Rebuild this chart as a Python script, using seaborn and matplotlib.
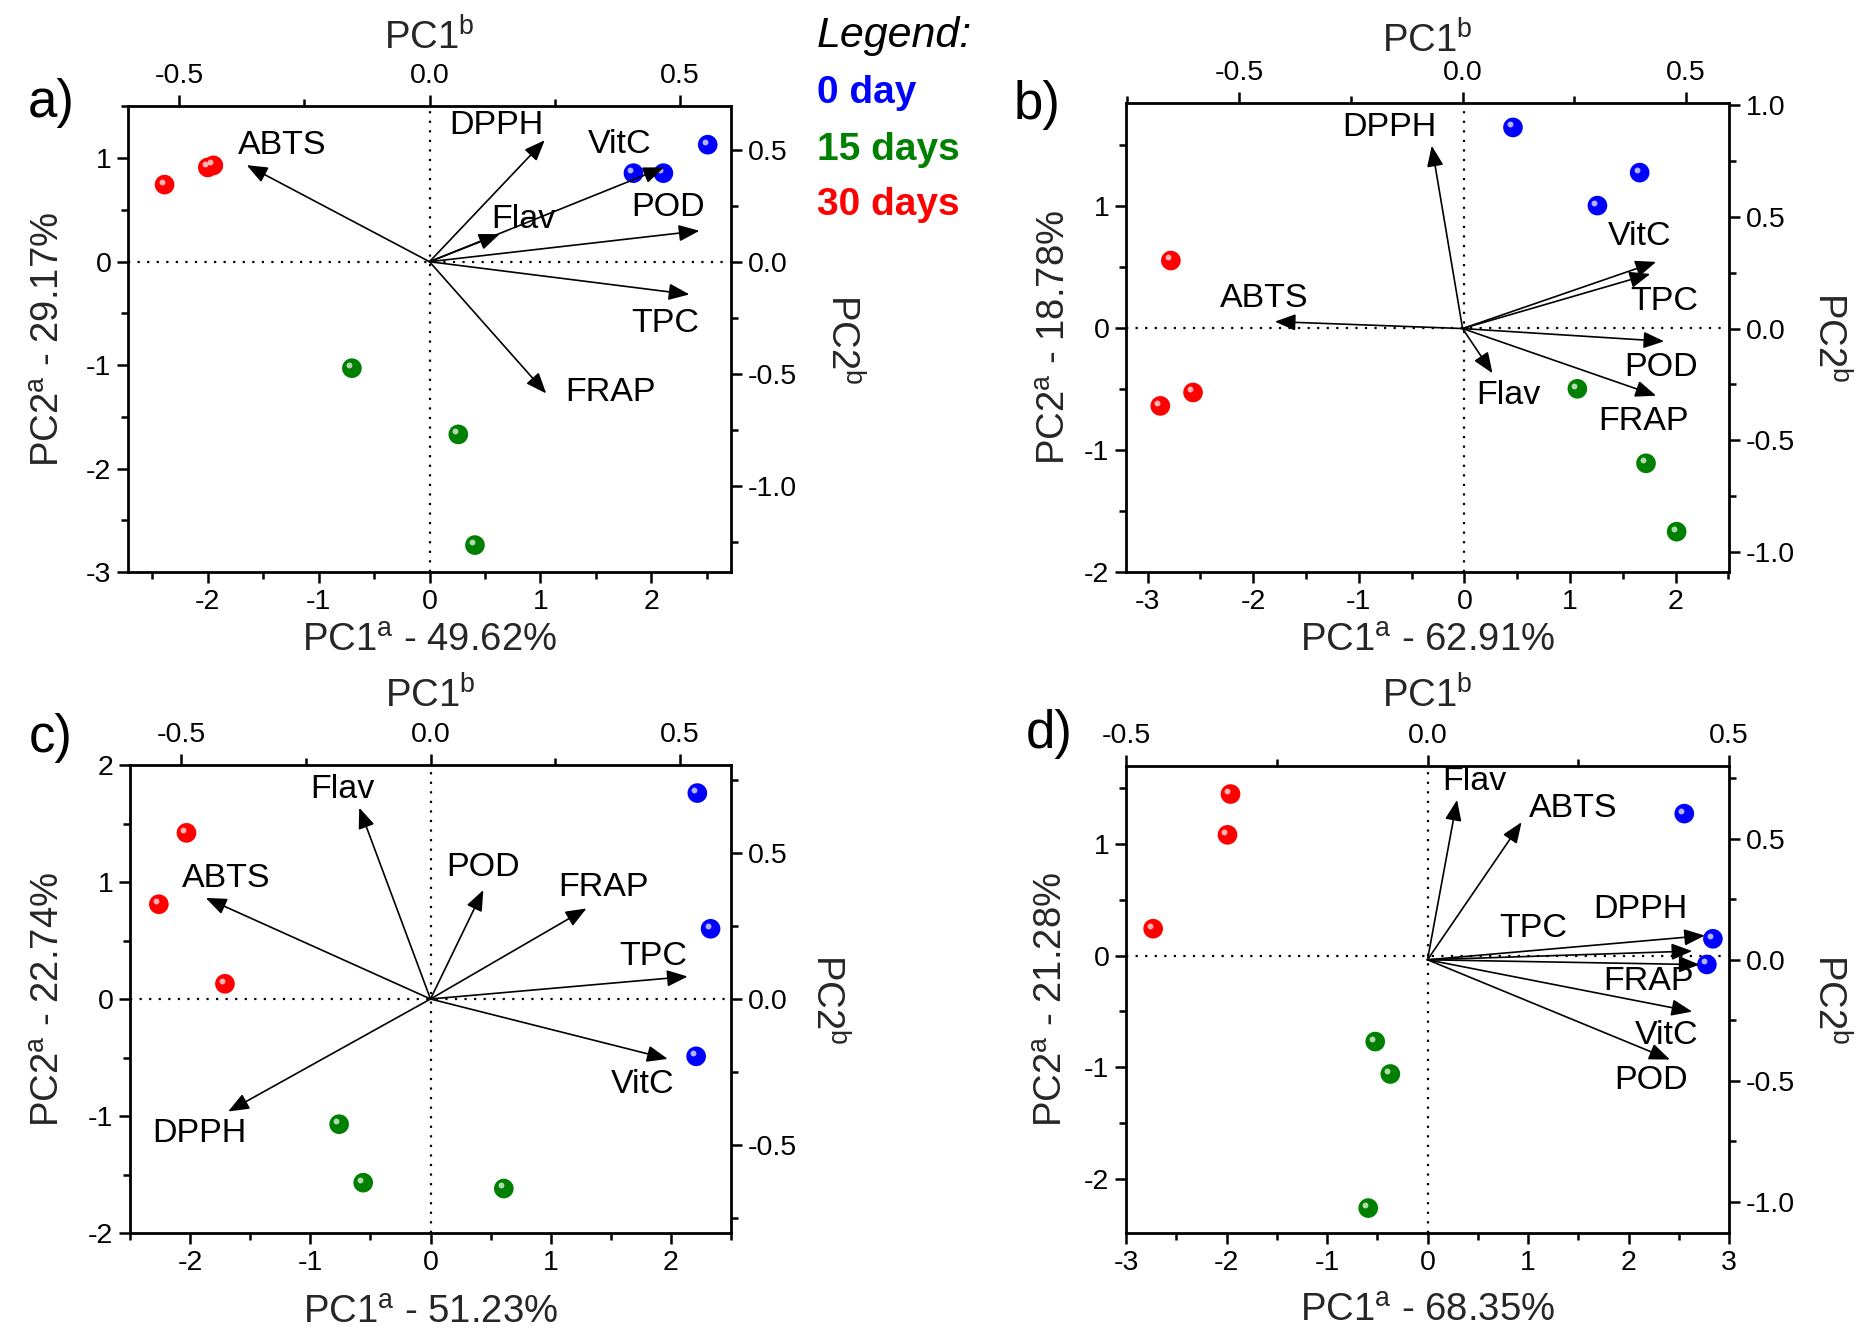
import numpy as np
import pandas as pd
import matplotlib
matplotlib.use("Agg")
import matplotlib.pyplot as plt
import seaborn as sns
from matplotlib.ticker import MultipleLocator, FuncFormatter
from matplotlib.transforms import offset_copy

# ---------------- data ----------------
groups = ["0 day", "15 days", "30 days"]
group_colors = ["#0000FF", "#008000", "#FF0000"]
sample_groups = ["0 day"] * 3 + ["15 days"] * 3 + ["30 days"] * 3
variables = ["TPC", "Flav", "VitC", "POD", "DPPH", "ABTS", "FRAP"]

# panel a) scores (PC1a / PC2a) and loadings (PC1b / PC2b)
a_pc1 = [1.84, 2.11, 2.51, -0.70, 0.26, 0.41, -2.39, -2.00, -1.95]
a_pc2 = [0.855, 0.855, 1.13, -1.03, -1.67, -2.74, 0.744, 0.91, 0.93]
a_load1 = [0.519, 0.14, 0.468, 0.539, 0.23, -0.365, 0.233]
a_load2 = [-0.146, 0.123, 0.421, 0.138, 0.542, 0.431, -0.588]
a_explained = ["49.62%", "29.17%"]

# panel b)
b_pc1 = [0.46, 1.66, 1.26, 1.07, 1.72, 2.01, -2.78, -2.57, -2.88]
b_pc2 = [1.64, 1.27, 1.00, -0.50, -1.11, -1.67, 0.55, -0.53, -0.64]
b_load1 = [0.42, 0.067, 0.433, 0.451, -0.069, -0.42, 0.433]
b_load2 = [0.244, -0.20, 0.298, -0.057, 0.817, 0.031, -0.30]
b_explained = ["62.91%", "18.78%"]

# panel c)
c_pc1 = [2.22, 2.33, 2.21, -0.76, -0.56, 0.61, -2.03, -2.26, -1.71]
c_pc2 = [1.76, 0.60, -0.49, -1.07, -1.57, -1.62, 1.42, 0.81, 0.13]
c_load1 = [0.516, -0.143, 0.476, 0.106, -0.406, -0.451, 0.313]
c_load2 = [0.077, 0.655, -0.205, 0.373, -0.385, 0.346, 0.31]
c_explained = ["51.23%", "22.74%"]

# panel d)
d_pc1 = [2.555, 2.84, 2.78, -0.52, -0.37, -0.59, -1.96, -1.99, -2.73]
d_pc2 = [1.27, 0.15, -0.08, -0.77, -1.06, -2.26, 1.445, 1.08, 0.24]
d_load1 = [0.439, 0.049, 0.439, 0.402, 0.46, 0.156, 0.451]
d_load2 = [0.036, 0.66, -0.214, -0.412, 0.10, 0.568, -0.02]
d_explained = ["68.35%", "21.28%"]

# label anchor positions for the loading names (loading-axis coordinates)
a_lab1 = [0.471, 0.188, 0.379, 0.476, 0.134, -0.295, 0.361]
a_lab2 = [-0.275, 0.187, 0.523, 0.24, 0.61, 0.519, -0.583]
b_lab1 = [0.451, 0.103, 0.397, 0.443, -0.164, -0.444, 0.404]
b_lab2 = [0.12, -0.30, 0.41, -0.172, 0.90, 0.135, -0.414]
c_lab1 = [0.446, -0.177, 0.426, 0.106, -0.463, -0.409, 0.348]
c_lab2 = [0.146, 0.716, -0.292, 0.45, -0.46, 0.414, 0.38]
d_lab1 = [0.175, 0.077, 0.397, 0.370, 0.353, 0.242, 0.367]
d_lab2 = [0.130, 0.735, -0.312, -0.50, 0.206, 0.624, -0.091]

# ---------------- style ----------------
sns.set_theme(style="ticks")
plt.rcParams["font.family"] = ["Liberation Sans", "DejaVu Sans"]
plt.rcParams["axes.unicode_minus"] = False
plt.rcParams["mathtext.fontset"] = "custom"
plt.rcParams["mathtext.rm"] = "Liberation Sans"

W, H = 1866, 1339
fig = plt.figure(figsize=(W / 100, H / 100), dpi=100, facecolor="white")


def px_rect(x0, y0, x1, y1):
    return [x0 / W, 1 - y1 / H, (x1 - x0) / W, (y1 - y0) / H]


TICK_FS = 20.5
LABEL_FS = 27.5
NAME_FS = 24.5

panels = [
    dict(letter="a)", lpos=(51, 103), rect=px_rect(128, 106, 731, 572),
         pc1=a_pc1, pc2=a_pc2, l1=a_load1, l2=a_load2, t1=a_lab1, t2=a_lab2, ex=a_explained,
         xlim=(-2.72, 2.72), ylim=(-3.0, 1.504), bxlim=(-0.602, 0.602), bylim=(-1.385, 0.695),
         lab=(-0.131, -0.148, 1.146, 1.184)),
    dict(letter="b)", lpos=(1037, 105), rect=px_rect(1126, 103, 1729, 572),
         pc1=b_pc1, pc2=b_pc2, l1=b_load1, l2=b_load2, t1=b_lab1, t2=b_lab2, ex=b_explained,
         xlim=(-3.205, 2.506), ylim=(-2.0, 1.84), bxlim=(-0.753, 0.596), bylim=(-1.088, 1.008),
         lab=(-0.118, -0.147, 1.132, 1.166)),
    dict(letter="c)", lpos=(51, 738), rect=px_rect(130, 765, 731, 1233),
         pc1=c_pc1, pc2=c_pc2, l1=c_load1, l2=c_load2, t1=c_lab1, t2=c_lab2, ex=c_explained,
         xlim=(-2.5, 2.5), ylim=(-2.0, 2.0), bxlim=(-0.603, 0.603), bylim=(-0.801, 0.801),
         lab=(-0.135, -0.171, 1.147, 1.16)),
    dict(letter="d)", lpos=(1049, 734), rect=px_rect(1126, 766, 1729, 1233),
         pc1=d_pc1, pc2=d_pc2, l1=d_load1, l2=d_load2, t1=d_lab1, t2=d_lab2, ex=d_explained,
         xlim=(-3.0, 3.0), ylim=(-2.483, 1.696), bxlim=(-0.5, 0.5), bylim=(-1.128, 0.80),
         lab=(-0.123, -0.167, 1.15, 1.166)),
]

int_fmt = FuncFormatter(lambda v, p: f"{v + 0.0:g}")
dec_fmt = FuncFormatter(lambda v, p: f"{v + 0.0:.1f}")

for P in panels:
    ax = fig.add_axes(P["rect"])
    df = pd.DataFrame({"PC1": P["pc1"], "PC2": P["pc2"], "Group": sample_groups})

    ax.axhline(0, color="black", lw=1.6, ls=(0, (1, 3.3)), zorder=1)
    ax.axvline(0, color="black", lw=1.6, ls=(0, (1, 3.3)), zorder=1)

    sns.scatterplot(data=df, x="PC1", y="PC2", hue="Group", hue_order=groups,
                    palette=group_colors, s=200, linewidth=0, legend=False,
                    ax=ax, zorder=3)
    hl = offset_copy(ax.transData, fig=fig, x=-2.2, y=2.2, units="points")
    ax.scatter(df["PC1"], df["PC2"], s=18, color="white", alpha=0.7,
               linewidth=0, transform=hl, zorder=4)

    ax.set_xlim(*P["xlim"])
    ax.set_ylim(*P["ylim"])
    ax.xaxis.set_major_locator(MultipleLocator(1))
    ax.xaxis.set_minor_locator(MultipleLocator(0.5))
    ax.yaxis.set_major_locator(MultipleLocator(1))
    ax.yaxis.set_minor_locator(MultipleLocator(0.5))
    ax.xaxis.set_major_formatter(int_fmt)
    ax.yaxis.set_major_formatter(int_fmt)
    ax.tick_params(which="both", direction="out", top=False, right=False,
                   labeltop=False, labelright=False, width=1.8, color="black",
                   labelsize=TICK_FS, labelcolor="black")
    ax.tick_params(which="major", length=8, pad=4)
    ax.tick_params(which="minor", length=5)
    for s in ax.spines.values():
        s.set_linewidth(2.0)
        s.set_color("black")
    ax.set_xlabel(f"PC1$^\\mathregular{{a}}$ - {P['ex'][0]}", fontsize=LABEL_FS)
    ax.set_ylabel(f"PC2$^\\mathregular{{a}}$ - {P['ex'][1]}", fontsize=LABEL_FS)
    lx, by, ty, rx = P["lab"]
    ax.yaxis.set_label_coords(lx, 0.5)
    ax.yaxis.label.set_va("center")
    ax.xaxis.set_label_coords(0.5, by)
    ax.xaxis.label.set_va("center")
    ax.set_facecolor("white")

    # loading axes (top / right scales)
    axb = fig.add_axes(P["rect"], frameon=False, label=P["letter"] + "load")
    axb.patch.set_visible(False)
    axb.set_xlim(*P["bxlim"])
    axb.set_ylim(*P["bylim"])
    axb.xaxis.tick_top()
    axb.yaxis.tick_right()
    axb.xaxis.set_major_locator(MultipleLocator(0.5))
    axb.xaxis.set_minor_locator(MultipleLocator(0.25))
    axb.yaxis.set_major_locator(MultipleLocator(0.5))
    axb.yaxis.set_minor_locator(MultipleLocator(0.25))
    axb.xaxis.set_major_formatter(dec_fmt)
    axb.yaxis.set_major_formatter(dec_fmt)
    axb.tick_params(which="both", direction="out", bottom=False, left=False,
                    labelbottom=False, labelleft=False, top=True, right=True,
                    labeltop=True, labelright=True, width=1.8, color="black",
                    labelsize=TICK_FS, labelcolor="black")
    axb.tick_params(which="major", length=8, pad=4)
    axb.tick_params(which="minor", length=5)
    axb.xaxis.set_label_position("top")
    axb.yaxis.set_label_position("right")
    axb.set_xlabel("PC1$^\\mathregular{b}$", fontsize=LABEL_FS)
    axb.set_ylabel("PC2$^\\mathregular{b}$", fontsize=LABEL_FS, rotation=270)
    axb.xaxis.set_label_coords(0.5, ty)
    axb.xaxis.label.set_va("center")
    axb.yaxis.set_label_coords(rx, 0.5)
    axb.yaxis.label.set_va("center")

    for name, x1, y1, tx, ty_ in zip(variables, P["l1"], P["l2"], P["t1"], P["t2"]):
        axb.annotate("", xy=(x1, y1), xytext=(0, 0),
                     arrowprops=dict(arrowstyle="-|>,head_length=0.55,head_width=0.22",
                                     color="black", lw=1.2, mutation_scale=23,
                                     shrinkA=0, shrinkB=0))
        axb.text(tx, ty_, name, fontsize=NAME_FS, ha="center", va="center", color="black")

    fig.text(P["lpos"][0] / W, 1 - P["lpos"][1] / H, P["letter"], fontsize=38,
             ha="center", va="center", color="black")

# legend block
fig.text(817 / W, 1 - 36 / H, "Legend:", fontsize=31, style="italic",
         ha="left", va="center", color="black")
for g, c, yy in zip(groups, group_colors, [93, 150, 205]):
    fig.text(817 / W, 1 - yy / H, g, fontsize=28, fontweight="bold",
             ha="left", va="center", color=c)

fig.savefig("out.png", dpi=100, facecolor="white")
